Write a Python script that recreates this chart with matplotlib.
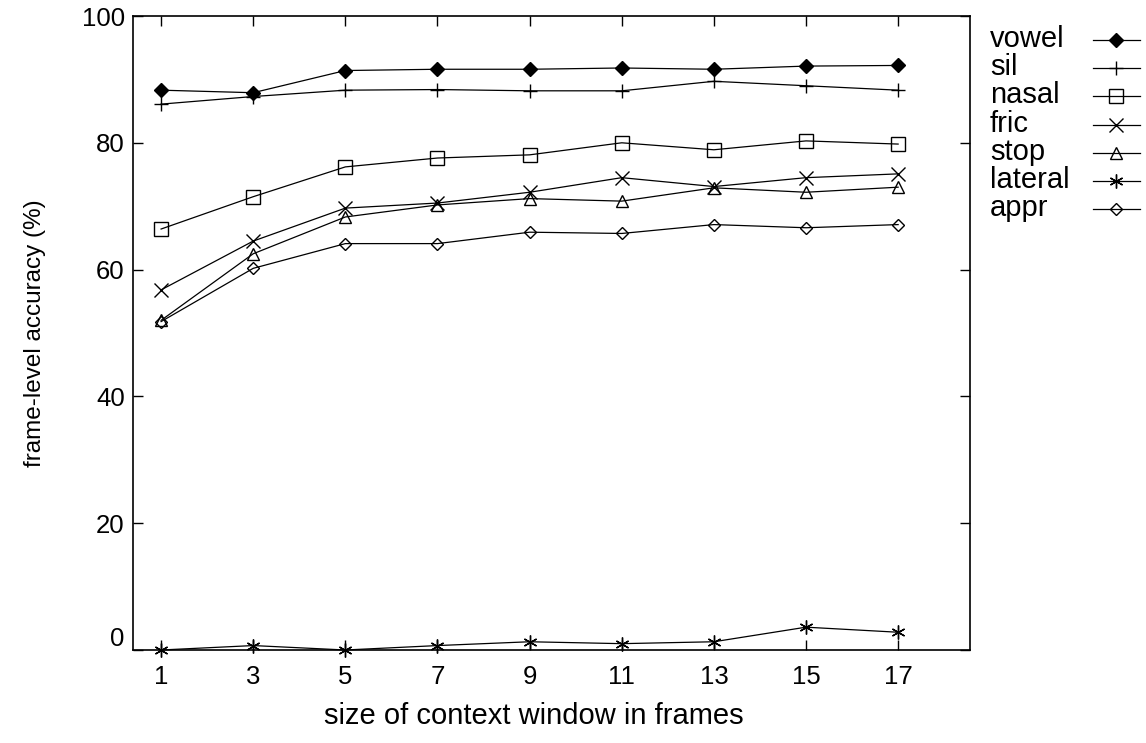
import matplotlib
matplotlib.use("Agg")
import matplotlib.pyplot as plt
import matplotlib.transforms as mtransforms
from matplotlib.lines import Line2D

plt.rcParams["font.family"] = ["Liberation Sans", "DejaVu Sans"]

# context window sizes (frames)
window = [1, 3, 5, 7, 9, 11, 13, 15, 17]

vowel = [88.3, 87.9, 91.4, 91.6, 91.6, 91.8, 91.6, 92.1, 92.2]
sil = [86.1, 87.3, 88.3, 88.4, 88.2, 88.2, 89.7, 89.0, 88.3]
nasal = [66.4, 71.5, 76.2, 77.6, 78.1, 80.0, 78.9, 80.3, 79.8]
fric = [56.8, 64.5, 69.7, 70.5, 72.2, 74.5, 73.1, 74.5, 75.1]
stop = [52.0, 62.5, 68.3, 70.2, 71.2, 70.8, 72.9, 72.2, 73.0]
lateral = [0.0, 0.7, 0.0, 0.7, 1.3, 1.0, 1.3, 3.6, 2.8]
appr = [51.8, 60.2, 64.1, 64.1, 65.9, 65.7, 67.1, 66.6, 67.1]

series = [
    ("vowel", vowel, dict(marker="D", markersize=7, markerfacecolor="black")),
    ("sil", sil, dict(marker="+", markersize=10)),
    ("nasal", nasal, dict(marker="s", markersize=10, markerfacecolor="none")),
    ("fric", fric, dict(marker="x", markersize=10)),
    ("stop", stop, dict(marker="^", markersize=8, markerfacecolor="none")),
    ("lateral", lateral, dict(marker=(6, 2, 0), markersize=10)),
    ("appr", appr, dict(marker="D", markersize=6.5, markerfacecolor="none")),
]

W, H = 1146, 743
fig = plt.figure(figsize=(W / 100, H / 100), dpi=100)
ax = fig.add_axes([133 / W, 93 / H, 837 / W, 634 / H])

line_kw = dict(color="black", linewidth=0.9, markeredgecolor="black",
               markeredgewidth=1.0)
for name, vals, style in series:
    ax.plot(window, vals, clip_on=False, label=name, **line_kw, **style)

ax.set_xlim(0.39, 18.56)
ax.set_ylim(0, 100)
ax.set_xticks(window)
ax.set_yticks([0, 20, 40, 60, 80, 100])
ax.tick_params(direction="in", length=7, width=1.0, labelsize=18.5,
               top=True, right=True)
ax.tick_params(axis="x", pad=11)
ax.tick_params(axis="y", pad=6)
for s in ax.spines.values():
    s.set_linewidth(1.2)

# gnuplot put the "0" label a bit above the axis
lab0 = ax.get_yticklabels()[0]
lab0.set_transform(lab0.get_transform() +
                   mtransforms.ScaledTranslation(0, 14 / 100, fig.dpi_scale_trans))

ax.set_xlabel("size of context window in frames", fontsize=21)
ax.xaxis.set_label_coords(0.479, -0.082)
ax.set_ylabel("frame-level accuracy (%)", fontsize=17.5)
ax.yaxis.set_label_coords(-0.104, 0.5)

# legend on the right: label left-aligned, sample line to the right
for i, (name, vals, style) in enumerate(series):
    y = 1 - (40 + 28.2 * i) / H
    fig.text(990 / W, y - 7 / H, name, fontsize=21, ha="left", va="baseline")
    fig.add_artist(Line2D([1093 / W, 1140 / W], [y, y], transform=fig.transFigure,
                          **line_kw))
    fig.add_artist(Line2D([1116 / W], [y], transform=fig.transFigure,
                          linestyle="none", **line_kw, **style))

fig.savefig("out.png", dpi=100)
